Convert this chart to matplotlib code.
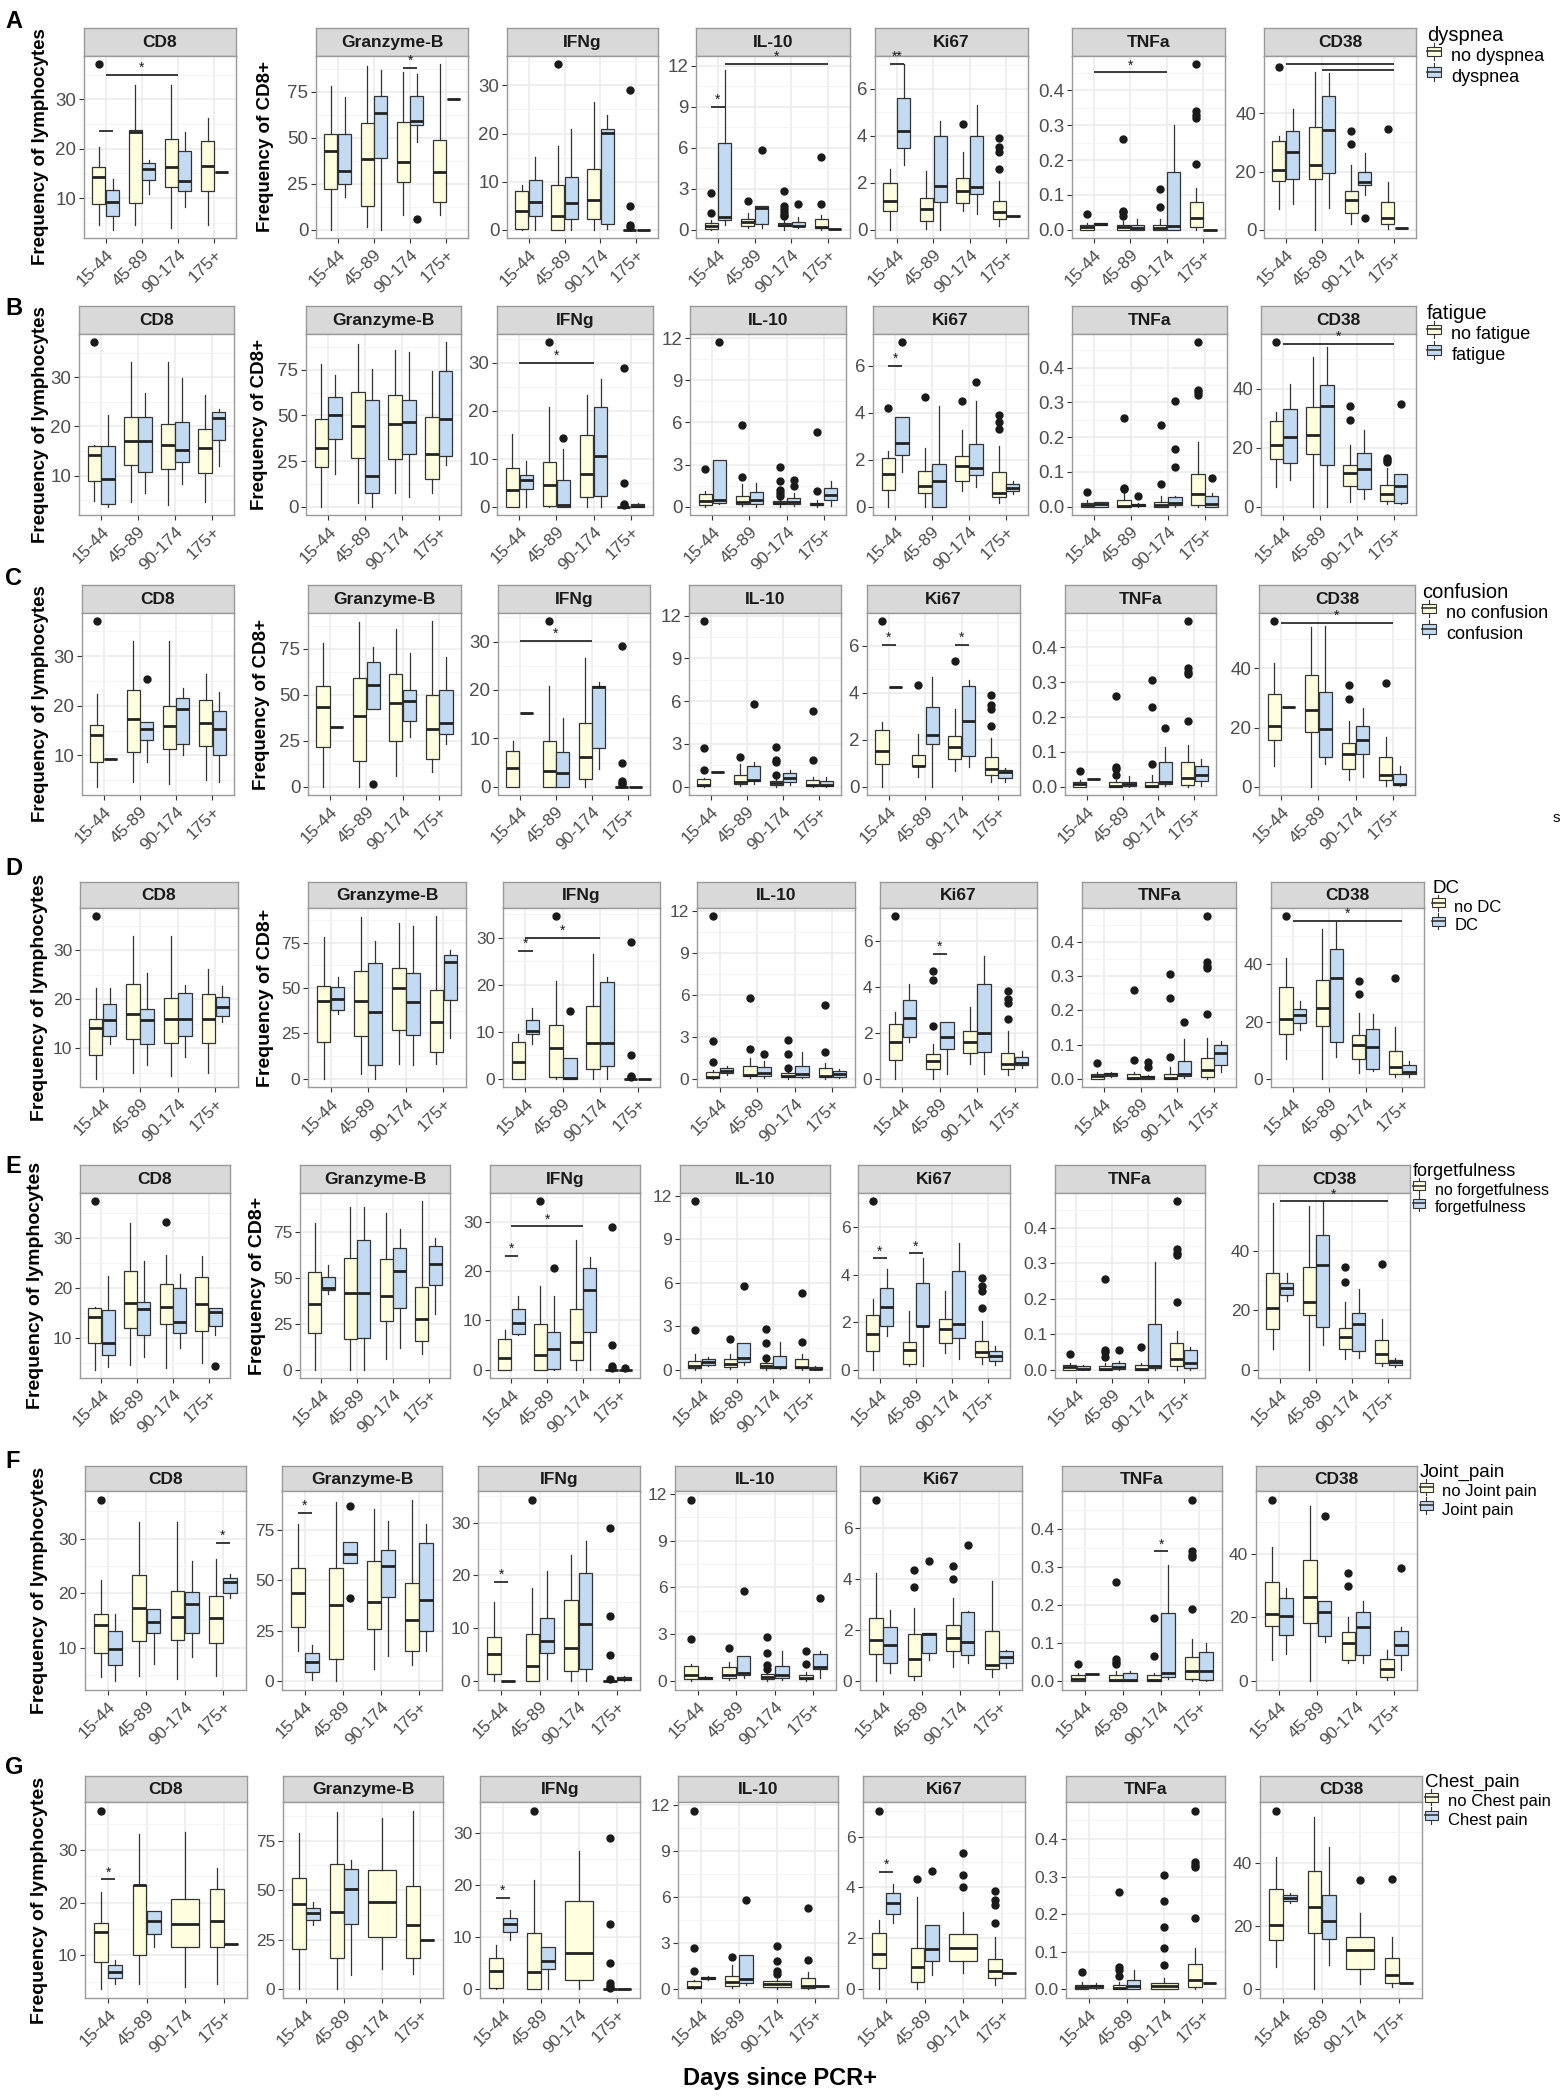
import matplotlib
matplotlib.use('Agg')
import matplotlib.pyplot as plt
from matplotlib.patches import Patch, Rectangle
from matplotlib.lines import Line2D
from matplotlib.legend_handler import HandlerBase

plt.rcParams['font.family'] = ['Liberation Sans', 'DejaVu Sans']

# ---------------- data ----------------
MARKERS = ['CD8', 'Granzyme-B', 'IFNg', 'IL-10', 'Ki67', 'TNFa', 'CD38']
DAYS = ['15-44', '45-89', '90-174', '175+']
YTICKS = [[10, 20, 30], [0, 25, 50, 75], [0, 10, 20, 30], [0, 3, 6, 9, 12],
          [0, 2, 4, 6], [0.0, 0.1, 0.2, 0.3, 0.4], [0, 20, 40]]
# each entry: (lower whisker, q1, median, q3, upper whisker, [outliers]) ; number = single value ; None = no group
# order: 15-44 no, 15-44 yes, 45-89 no, 45-89 yes, 90-174 no, 90-174 yes, 175+ no, 175+ yes

# ----- A: dyspnea -----
A_CD8 = [(4.6, 8.8, 14.2, 16.2, 20.4, [37.1]), (3.6, 6.3, 9.3, 11.6, 13.9),
         (4.6, 9.1, 23.4, 23.7, 33.0), (10.8, 13.6, 15.8, 17.1, 17.7),
         (3.9, 12.2, 16.2, 21.9, 33.0), (8.3, 11.4, 13.5, 19.5, 23.4),
         (4.6, 11.4, 16.5, 21.5, 26.3), 15.2]
A_GZB = [(0, 22, 43, 52, 78), (18, 25, 32, 52, 72),
         (1.5, 13, 38.7, 57.8, 89), (0, 39, 63.7, 72.8, 87),
         (7.8, 26, 36.9, 58.8, 86), (47.6, 57, 59.1, 72.8, 84.7, [5.7]),
         (7.8, 15.3, 31.4, 49, 90), 71]
A_IFNG = [(0, 0.2, 3.9, 8, 9.2), (0, 2.8, 5.8, 10.4, 15.1),
          (0, 0, 2.9, 9.2, 17.4, [34.4]), (0, 2.2, 5.5, 11, 20.9),
          (0, 2.2, 6.1, 12.7, 26.6), (0.2, 1.1, 20.1, 20.9, 23.8),
          (0, 0, 0, 0, 0, [0.5, 0.9, 5.0, 29.0]), 0]
A_IL10 = [(0, 0.05, 0.25, 0.5, 0.7, [1.2, 2.7]), (0.35, 0.7, 0.95, 6.35, 11.7),
          (0.1, 0.3, 0.6, 0.8, 1.2, [2.1]), (0.1, 0.45, 1.6, 1.75, 1.75, [5.8]),
          (0, 0.25, 0.35, 0.5, 0.7, [1.0, 1.1, 1.3, 1.5, 1.7, 2.8]), (0.1, 0.25, 0.3, 0.6, 0.9, [1.9]),
          (0, 0.1, 0.2, 0.8, 1.1, [1.9, 5.3]), 0.05]
A_KI67 = [(0, 0.8, 1.22, 2.0, 2.6), (2.77, 3.46, 4.2, 5.62, 7.04),
          (0.04, 0.37, 0.87, 1.35, 2.5), (0, 1.2, 1.85, 3.97, 4.62),
          (0.8, 1.12, 1.66, 2.18, 3.3, [4.5]), (0.65, 1.5, 1.82, 4.0, 5.32),
          (0.14, 0.47, 0.75, 1.22, 2.06, [2.6, 3.3, 3.5, 3.9]), 0.58]
A_TNFA = [(0, 0, 0.008, 0.015, 0.02, [0.046]), (0.014, 0.014, 0.017, 0.02, 0.02),
          (0, 0, 0.008, 0.015, 0.025, [0.04, 0.05, 0.055, 0.26]), (0, 0, 0.005, 0.013, 0.03),
          (0, 0, 0.005, 0.014, 0.03, [0.065, 0.118]), (0, 0, 0.012, 0.165, 0.3),
          (0, 0.007, 0.035, 0.08, 0.12, [0.19, 0.32, 0.33, 0.34, 0.475]), 0.0]
A_CD38 = [(7.1, 16.7, 20.4, 30.5, 32.3, [55.8]), (9, 17.6, 26.7, 34, 41.5),
          (0, 17.6, 22.3, 35.2, 54.3), (7.5, 19.4, 34.4, 46, 53.9),
          (2.1, 5.9, 10.1, 13.2, 22.3, [29.5, 34]), (11.8, 15.4, 16.4, 20, 26.5, [4]),
          (0.3, 1.9, 4.2, 9.4, 16.5, [34.7]), 0.7]
A_SIG = [(0, 0.81, 1.19, 23.5, ''), (0, 1, 3, 35, '*'), (1, 2.81, 3.19, 88, '*'),
         (3, 0.81, 1.19, 9.0, '*'), (3, 1.19, 4.0, 12.1, '*'), (4, 0.81, 1.19, 7.04, '**'),
         (5, 1, 3, 0.452, '*'), (6, 1, 4, 56.9, ''), (6, 2, 4, 55.1, '')]

# ----- B: fatigue -----
B_CD8 = [(4.9, 9.0, 14.3, 16.1, 16.3, [37.1]), (3.7, 4.3, 9.4, 16.1, 22.3),
         (4.7, 12.2, 17.0, 22.0, 33.0), (6.4, 10.8, 17.0, 21.9, 26.8),
         (4.1, 11.3, 16.2, 20.5, 33.0), (8.4, 12.8, 15.3, 20.9, 29.8),
         (4.7, 10.6, 15.7, 19.4, 26.3), (12.0, 17.2, 21.7, 23.0, 23.6)]
B_GZB = [(0, 21.5, 32, 48, 78), (17.7, 37, 50, 60, 72),
         (1.8, 26.6, 44.4, 62.6, 89), (0, 7.3, 17, 58.6, 75.6),
         (7.7, 26.4, 45.2, 61.4, 85.6), (5.5, 29, 46.4, 58.6, 84.7),
         (7.7, 15, 28.6, 49, 74.5), (22.6, 28, 48, 74.5, 90)]
B_IFNG = [(0, 0, 3.5, 8.1, 15.2), (0, 3.75, 5.5, 6.7, 9.5),
          (0, 0.2, 4.5, 9.3, 20.8, [34.3]), (0, 0, 0.3, 5.6, 12, [14.4]),
          (0, 2.1, 6.9, 14.9, 23.3), (0, 2.2, 10.6, 20.8, 26.6),
          (0, 0, 0, 0, 0, [0.3, 0.5, 5.0, 29.0]), (0, 0, 0.25, 0.5, 0.8)]
B_IL10 = [(0, 0.1, 0.4, 0.9, 1.1, [2.7]), (0.2, 0.3, 0.45, 3.3, 3.3, [11.7]),
          (0.05, 0.2, 0.35, 0.75, 1.6, [2.1, 5.8]), (0, 0.2, 0.5, 1.05, 1.7),
          (0, 0.2, 0.3, 0.4, 0.6, [0.8, 1.0, 1.2, 1.8, 2.8]), (0.05, 0.2, 0.35, 0.6, 1.0, [1.5, 1.9]),
          (0, 0.1, 0.2, 0.3, 0.5, [1.1, 5.3]), (0.05, 0.5, 0.85, 1.35, 1.8)]
B_KI67 = [(0, 0.72, 1.39, 2.07, 2.38, [4.2]), (1.46, 2.2, 2.7, 3.83, 3.83, [7.0]),
          (0, 0.57, 0.9, 1.53, 2.5, [4.65]), (0, 0, 1.1, 1.82, 4.3),
          (0.68, 1.08, 1.73, 2.18, 3.26, [4.5]), (0.82, 1.35, 1.66, 2.67, 4.48, [5.32]),
          (0.18, 0.43, 0.58, 1.46, 2.57, [3.3, 3.6, 3.9]), (0.55, 0.65, 0.8, 0.98, 1.1)]
B_TNFA = [(0, 0, 0.005, 0.012, 0.02, [0.043]), (0, 0, 0.008, 0.013, 0.015),
          (0, 0, 0.003, 0.02, 0.04, [0.052, 0.055, 0.256]), (0, 0.001, 0.005, 0.008, 0.012, [0.03]),
          (0, 0, 0.006, 0.013, 0.03, [0.065, 0.235]), (0, 0.005, 0.012, 0.028, 0.032, [0.115, 0.165, 0.303]),
          (0, 0.005, 0.037, 0.094, 0.185, [0.32, 0.33, 0.337, 0.473]), (0, 0, 0.008, 0.03, 0.04, [0.082])]
B_CD38 = [(6.8, 16.3, 20.8, 29, 32.2, [55.8]), (9, 14.9, 23.7, 33.2, 41.7),
          (0, 18, 24.2, 33.8, 50.7), (0, 14.1, 34.1, 41.2, 54.2),
          (1.7, 7.1, 11.5, 14.3, 20.8, [29.5, 34.2]), (2.8, 6.1, 12.9, 18.4, 26.2),
          (0.8, 1.9, 4.2, 7.3, 13.2, [15.3, 16.0, 16.5]), (1, 1.2, 7.2, 11, 11, [34.7])]
B_SIG = [(2, 1, 3, 30, '*'), (4, 0.81, 1.19, 6.0, '*'), (6, 1, 4, 55.3, '*')]

# ----- C: confusion -----
C_CD8 = [(3.7, 8.7, 14.2, 16.1, 22.3, [37.0]), 9.3,
         (4.7, 10.7, 17.3, 23.1, 33.0), (8.6, 13.2, 15.3, 16.8, 16.8, [25.4]),
         (4.2, 11.3, 15.9, 20.0, 33.0), (10.0, 12.4, 19.4, 21.6, 23.5),
         (5.1, 11.9, 16.5, 21.1, 26.3), (4.7, 10.0, 15.3, 19.0, 22.7)]
C_GZB = [(0, 21.4, 43.3, 54.9, 78.3), 32.2,
         (0, 14.1, 38.4, 58.9, 89.3), (42.2, 42.2, 55.3, 68, 75.7, [1.6]),
         (6, 24.8, 45.5, 61.4, 85.7), (26.8, 35.7, 46.7, 52.5, 72.5),
         (7.8, 15, 31.3, 50, 89.9), (23.2, 28.6, 34.6, 52.7, 70.7)]
C_IFNG = [(0, 0, 3.9, 7.4, 9.4), 15.2,
          (0, 0, 3.3, 9.4, 20.8, [34.2]), (0, 0, 2.8, 7.1, 14.3),
          (0, 1.6, 6.1, 13.2, 26.6), (3.7, 8.1, 20.6, 20.8, 21.6),
          (0, 0, 0, 0, 0, [0.5, 0.8, 1.1, 5.0, 29.0]), 0]
C_IL10 = [(0, 0.05, 0.15, 0.55, 0.6, [1.2, 2.7, 11.6]), 1.0,
          (0.05, 0.2, 0.3, 0.85, 1.6, [2.1]), (0.2, 0.4, 0.5, 1.45, 1.75, [5.8]),
          (0, 0.1, 0.25, 0.4, 0.55, [0.8, 1.7, 1.9, 2.8]), (0.1, 0.35, 0.6, 0.95, 1.2),
          (0, 0.05, 0.15, 0.5, 0.65, [1.9, 5.3]), (0, 0.05, 0.1, 0.4, 0.65)]
C_KI67 = [(0, 0.96, 1.52, 2.4, 2.76, [7.05]), 4.25,
          (0.42, 0.88, 0.89, 1.36, 2.24, [4.35]), (0, 1.84, 2.2, 3.4, 4.67),
          (0.68, 1.18, 1.71, 2.17, 3.31, [5.35]), (0.85, 1.3, 2.8, 4.29, 4.53),
          (0.21, 0.52, 0.76, 1.25, 2.08, [2.6, 3.3, 3.5, 3.9]), (0.21, 0.38, 0.62, 0.71, 0.78)]
C_TNFA = [(0, 0, 0.008, 0.015, 0.02, [0.045]), 0.022,
          (0, 0, 0.001, 0.015, 0.02, [0.035, 0.05, 0.058, 0.26]), (0, 0.002, 0.008, 0.015, 0.03),
          (0, 0, 0.002, 0.015, 0.035, [0.065, 0.23, 0.305]), (0.002, 0.008, 0.015, 0.07, 0.115, [0.168]),
          (0, 0.006, 0.025, 0.072, 0.12, [0.19, 0.325, 0.33, 0.34, 0.475]), (0.002, 0.017, 0.035, 0.06, 0.08)]
C_CD38 = [(6.9, 15.9, 20.6, 31.2, 41.7, [55.9]), 27.0,
          (0, 18.4, 26, 37.9, 54), (7.7, 9.9, 19.5, 32.1, 54.4),
          (2.2, 6.1, 11.1, 14.9, 22.3, [29.7, 34.3]), (3.3, 11, 15.7, 20.5, 26.6),
          (0.3, 2.2, 3.8, 9.9, 16.8, [34.9]), (0.2, 0.7, 0.9, 4.2, 7.1)]
C_SIG = [(2, 1, 3, 30.2, '*'), (4, 0.81, 1.19, 6.05, '*'), (4, 2.81, 3.19, 6.06, '*'), (6, 1, 4, 55.4, '*')]

# ----- D: DC -----
D_CD8 = [(3.8, 8.6, 14.1, 16.0, 22.3, [37.0]), (11.0, 12.5, 15.8, 19.1, 22.3),
         (4.9, 12.0, 17.0, 23.2, 33.0), (6.7, 10.9, 15.8, 18.0, 25.3),
         (4.3, 11.2, 16.0, 20.4, 33.0), (8.3, 12.6, 16.0, 21.3, 23.0),
         (4.9, 11.2, 16.0, 21.1, 26.3), (15.5, 16.7, 18.4, 20.5, 22.7)]
D_GZB = [(0, 20.4, 43, 51.3, 78), (35.6, 37.8, 43.9, 50.4, 56),
         (2.8, 23.5, 42.6, 59.6, 89), (0, 7.4, 36.9, 63.7, 75.7),
         (8.1, 26.9, 49.8, 61.1, 86), (7.8, 23.9, 42.4, 58.3, 84.3),
         (8.1, 14.8, 31.3, 49, 89.6), (22.6, 43.5, 64.6, 68, 70.7)]
D_IFNG = [(0, 0, 3.5, 7.9, 9.5), (7.4, 9.6, 10.2, 12.6, 15.1),
          (0, 0.35, 6.5, 11.4, 20.9, [34.6]), (0, 0, 0.15, 4.4, 4.4, [14.5]),
          (0, 2.0, 7.7, 15.5, 26.5), (0, 2.8, 7.7, 20.5, 21.6),
          (0, 0, 0, 0, 0, [0.3, 0.7, 5.0, 29.0]), 0]
D_IL10 = [(0, 0.05, 0.15, 0.5, 0.6, [1.2, 2.7, 11.6]), (0.3, 0.4, 0.55, 0.75, 0.9),
          (0.05, 0.2, 0.3, 0.95, 1.5, [2.1, 5.8]), (0.05, 0.2, 0.45, 0.85, 1.3, [1.8]),
          (0, 0.1, 0.2, 0.45, 0.6, [0.8, 1.8, 2.8]), (0.05, 0.15, 0.35, 0.95, 1.9),
          (0, 0.1, 0.2, 0.75, 1.1, [1.9, 5.3]), (0.05, 0.15, 0.35, 0.55, 0.7)]
D_KI67 = [(0, 0.82, 1.59, 2.4, 2.9, [7.1]), (1.63, 1.84, 2.66, 3.43, 4.16),
          (0, 0.41, 0.78, 1.1, 1.5, [2.3, 4.3, 4.7]), (0.22, 1.3, 1.81, 2.47, 2.47),
          (0.66, 1.12, 1.63, 2.1, 3.13), (0.22, 1.19, 1.99, 4.12, 5.34),
          (0.15, 0.44, 0.66, 1.15, 2.1, [2.6, 3.3, 3.5, 3.85]), (0.49, 0.6, 0.71, 0.96, 1.22)]
D_TNFA = [(0, 0, 0.008, 0.015, 0.02, [0.045]), (0.005, 0.008, 0.013, 0.018, 0.02),
          (0, 0, 0.003, 0.015, 0.02, [0.055, 0.26]), (0, 0.001, 0.004, 0.007, 0.01, [0.035, 0.05]),
          (0, 0, 0.003, 0.013, 0.035, [0.065, 0.235, 0.305]), (0.002, 0.008, 0.015, 0.052, 0.115, [0.165]),
          (0, 0.006, 0.025, 0.06, 0.12, [0.19, 0.325, 0.33, 0.34, 0.475]), (0.02, 0.04, 0.075, 0.1, 0.11)]
D_CD38 = [(6.8, 15.6, 21, 32, 42.4, [56.9]), (17, 19.6, 22.2, 24.6, 27.4),
          (0, 18.6, 24.8, 34.6, 52.3), (7.7, 12.8, 35.2, 45.5, 55),
          (2, 7.1, 11.9, 15.4, 23, [29.5, 34.2]), (2.6, 3.6, 11.3, 17.4, 22.6),
          (0.5, 1.8, 4.1, 9.8, 18, [35.2]), (0.8, 1.7, 2.4, 4.8, 6.2)]
D_SIG = [(2, 0.81, 1.19, 27.2, '*'), (2, 1, 3, 30, '*'), (4, 1.81, 2.19, 5.44, '*'), (6, 1, 4, 55.3, '*')]

# ----- E: forgetfulness -----
E_CD8 = [(3.7, 9.0, 14.2, 16.0, 16.2, [37.3]), (4.2, 6.7, 9.1, 15.7, 22.3),
         (4.7, 12.0, 17.0, 23.3, 33.0), (6.2, 10.7, 15.9, 17.3, 25.3),
         (4.0, 12.8, 16.3, 20.8, 26.5, [33.2]), (8.1, 11.1, 13.3, 20.0, 22.7),
         (5.0, 11.5, 16.9, 22.1, 26.3), (10.7, 12.5, 15.3, 16.0, 16.0, [4.5])]
E_GZB = [(0, 20, 35.8, 53, 79.6), (41.2, 43.4, 44.5, 50.6, 57),
         (0, 16.8, 41.6, 60.8, 88.6), (0, 17.4, 41.6, 70.5, 88.6),
         (6, 26.4, 39.8, 59.9, 85), (11.8, 33.6, 53.5, 66.2, 76.5),
         (8.3, 15.4, 27.7, 44.8, 91.5), (30.4, 45.8, 57.5, 67.1, 71.6)]
E_IFNG = [(0, 0, 2.4, 6.3, 8.1), (7.1, 7.3, 9.5, 12.3, 15),
          (0, 0, 3, 9.3, 17.1, [34.2]), (0, 0.2, 4.2, 7.6, 15, [20.7]),
          (0, 1.9, 5.6, 12.4, 26.4), (0, 7.7, 16.2, 20.6, 22.9),
          (0, 0, 0, 0, 0, [0.3, 0.8, 5.0, 29.0]), (0, 0, 0, 0, 0, [0.3])]
E_IL10 = [(0, 0.1, 0.25, 0.6, 1.1, [2.7, 11.6]), (0.25, 0.35, 0.55, 0.75, 0.9),
          (0.05, 0.2, 0.4, 0.7, 1.1, [2.1]), (0.3, 0.55, 0.8, 1.8, 1.8, [5.8]),
          (0, 0.1, 0.25, 0.45, 0.6, [0.8, 1.8, 2.8]), (0.05, 0.1, 0.2, 0.95, 1.9),
          (0, 0.1, 0.2, 0.75, 1.1, [1.9, 5.3]), (0, 0.02, 0.05, 0.15, 0.25)]
E_KI67 = [(0, 0.8, 1.49, 2.29, 2.96, [7.08]), (1.42, 1.82, 2.64, 3.45, 4.22),
          (0.17, 0.24, 0.82, 1.17, 2.47), (0.17, 1.82, 1.82, 3.63, 4.68),
          (0.68, 1.12, 1.7, 2.12, 3.31), (0.45, 1.35, 1.91, 4.15, 5.34),
          (0.24, 0.52, 0.73, 1.22, 2.03, [2.6, 3.3, 3.5, 3.85]), (0.21, 0.38, 0.59, 0.8, 1.0)]
E_TNFA = [(0, 0, 0.007, 0.013, 0.02, [0.045]), (0, 0.001, 0.003, 0.01, 0.012),
          (0, 0, 0.002, 0.01, 0.02, [0.035, 0.05, 0.055, 0.255]), (0, 0.003, 0.008, 0.018, 0.025, [0.055]),
          (0, 0, 0.002, 0.012, 0.02, [0.065]), (0, 0.005, 0.01, 0.13, 0.305),
          (0, 0.01, 0.03, 0.075, 0.11, [0.19, 0.325, 0.33, 0.34, 0.475]), (0, 0.005, 0.02, 0.056, 0.065)]
E_CD38 = [(6.9, 13.8, 20.6, 32.4, 56), (23, 25, 27.5, 29, 32.4),
          (0, 18.3, 22.6, 34.3, 54.8), (8.2, 14.4, 35, 45.3, 56.5),
          (3.4, 6.9, 10.8, 14, 22.6, [29.5, 34.3]), (4, 6.3, 15.2, 19.1, 27),
          (1.1, 2.2, 5.4, 10.1, 16.9, [35.4]), (0.9, 1.5, 2.4, 3.1, 4)]
E_SIG = [(2, 0.81, 1.19, 23.1, '*'), (2, 1, 3, 29.1, '*'), (4, 0.81, 1.19, 4.68, '*'),
         (4, 1.81, 2.19, 4.89, '*'), (6, 1, 4, 56.5, '*')]

# ----- F: Joint_pain -----
F_CD8 = [(4.7, 9.0, 14.2, 16.1, 22.4, [37.1]), (3.9, 6.8, 9.8, 13.0, 16.1),
         (4.8, 11.2, 17.3, 23.3, 33.0), (7.0, 12.7, 14.8, 17.1, 17.1),
         (4.2, 11.5, 15.6, 20.4, 33.0), (8.3, 12.7, 18.0, 20.3, 26.0),
         (4.8, 10.9, 15.5, 19.4, 26.3), (19.1, 20.1, 22.1, 22.8, 23.5)]
F_GZB = [(15, 27, 43.8, 56, 78.2), (0.3, 4.4, 9.3, 13.8, 17.9),
         (0, 10.7, 37.7, 56, 88.9), (58.5, 58.5, 63.4, 69.2, 69.2, [41.3, 87.2]),
         (6, 25.7, 39.2, 59.7, 85.6), (12.6, 41.8, 57.2, 65, 79.8),
         (7.7, 15.1, 30.3, 48.7, 90), (15.1, 24.9, 40.5, 68.4, 78.2)]
F_IFNG = [(0, 1.4, 5.1, 8.3, 15), 0,
          (0, 0, 2.8, 8.9, 17.6, [34.3]), (0.3, 5.3, 7.6, 12, 20.8),
          (0, 1.9, 6.2, 15.4, 23.9), (0, 2.2, 10.75, 20.4, 26.6),
          (0, 0, 0, 0, 0, [0.3, 5.0, 12.3, 29.0]), (0, 0.1, 0.3, 0.7, 1.0)]
F_IL10 = [(0, 0.15, 0.35, 0.95, 1.1, [2.7, 11.6]), (0.1, 0.12, 0.2, 0.25, 0.3),
          (0.05, 0.2, 0.35, 0.9, 1.2, [2.1]), (0.2, 0.4, 0.5, 1.6, 1.6, [5.8]),
          (0, 0.1, 0.25, 0.45, 0.6, [0.75, 1.0, 1.8, 2.8]), (0.05, 0.2, 0.35, 0.95, 1.9),
          (0, 0.1, 0.2, 0.4, 0.6, [1.1, 1.9]), (0.2, 0.75, 0.9, 1.7, 1.9, [5.3])]
F_KI67 = [(0, 1.07, 1.59, 2.47, 4.24, [7.1]), (0.3, 0.71, 1.42, 2.1, 2.78),
          (0.04, 0.2, 0.85, 1.85, 2.88, [3.7, 4.35]), (0.82, 1.11, 1.85, 1.89, 1.89, [4.7]),
          (0.56, 1.16, 1.69, 2.2, 3.27, [4.0, 4.5]), (0.71, 1.03, 1.53, 2.69, 2.76, [5.35]),
          (0.14, 0.45, 0.62, 1.98, 3.92), (0.49, 0.72, 0.94, 1.16, 1.2)]
F_TNFA = [(0, 0, 0.005, 0.015, 0.02, [0.045]), 0.017,
          (0, 0, 0.002, 0.015, 0.025, [0.045, 0.05, 0.058, 0.26]), (0, 0.001, 0.002, 0.022, 0.025),
          (0, 0, 0.003, 0.015, 0.02, [0.065, 0.165]), (0.005, 0.01, 0.02, 0.178, 0.305),
          (0, 0.006, 0.025, 0.062, 0.11, [0.19, 0.325, 0.33, 0.34, 0.475]), (0, 0.002, 0.025, 0.075, 0.1)]
F_CD38 = [(6.5, 17.4, 21, 31.1, 42.3, [57]), (8.6, 14.6, 20.5, 26.2, 29.3),
          (0, 18.2, 26.4, 38.1, 55.2), (12.4, 14.3, 21.6, 25.2, 25.2, [51.9]),
          (5.5, 6.5, 11.9, 15.3, 20, [30, 34]), (5.5, 8.1, 16.9, 21.6, 25.2),
          (0.3, 1.3, 3.9, 7, 9.9), (3.4, 8.1, 11.2, 15.6, 16.9, [35.5])]
F_SIG = [(0, 3.81, 4.19, 29.2, '*'), (1, 0.81, 1.19, 83.6, '*'), (2, 0.81, 1.19, 18.75, '*'),
         (5, 2.81, 3.19, 0.34, '*')]

# ----- G: Chest_pain -----
G_CD8 = [(3.6, 8.8, 14.4, 16.2, 22.1, [37.4]), (4.5, 5.7, 6.9, 8.2, 9.1),
         (4.5, 10.0, 23.3, 23.4, 33.0), (11.5, 14.1, 16.5, 18.5, 18.5),
         (4.0, 11.5, 15.9, 20.6, 33.4), None,
         (4.5, 11.6, 16.6, 22.5, 26.5), 12.1]
G_GZB = [(0, 20.1, 42.9, 56.3, 78.6), (32.2, 35, 38.2, 40.9, 44),
         (0, 15.7, 38.8, 63.2, 89.6), (7.1, 32.7, 50.8, 60.8, 65),
         (10.2, 26.3, 44, 60.2, 86.2), None,
         (7.4, 15.7, 32.2, 52.2, 90), 24.7]
G_IFNG = [(0, 0.2, 3.5, 5.9, 8.5), (9.4, 10.9, 12.4, 13.7, 15.1),
          (0, 0, 3.3, 10.8, 20.9, [34.2]), (0, 3.8, 5.4, 8.1, 8.1),
          (0, 1.8, 6.9, 16.9, 26.6), None,
          (0, 0, 0, 0, 0, [0.3, 0.6, 1.2, 5.0, 12.5, 29.0]), 0]
G_IL10 = [(0, 0.05, 0.15, 0.5, 0.6, [1.2, 2.7, 11.6]), (0.6, 0.65, 0.7, 0.8, 0.85),
          (0.05, 0.2, 0.45, 0.85, 1.6, [2.1]), (0.25, 0.4, 0.65, 2.2, 2.2, [5.8]),
          (0, 0.15, 0.3, 0.55, 0.65, [1.0, 1.2, 1.8, 2.8]), None,
          (0, 0.05, 0.2, 0.75, 1.1, [1.9, 5.3]), 0.2]
G_KI67 = [(0, 0.83, 1.38, 2.2, 2.7, [7.01]), (2.61, 2.95, 3.37, 3.77, 4.14),
          (0, 0.26, 0.86, 1.63, 3.61, [4.32]), (0.55, 1.1, 1.57, 2.52, 2.52, [4.65]),
          (0.65, 1.1, 1.63, 2.18, 3.04, [4.0, 4.5, 5.35]), None,
          (0.18, 0.44, 0.71, 1.18, 2.03, [2.6, 3.3, 3.5, 3.85]), 0.62]
G_TNFA = [(0, 0, 0.005, 0.012, 0.02, [0.045]), (0, 0.003, 0.008, 0.012, 0.015),
          (0, 0, 0.002, 0.012, 0.02, [0.035, 0.05, 0.058, 0.26]), (0, 0.001, 0.008, 0.025, 0.05),
          (0, 0.001, 0.008, 0.015, 0.03, [0.065, 0.11, 0.165, 0.235, 0.305]), None,
          (0, 0.005, 0.025, 0.066, 0.11, [0.19, 0.325, 0.33, 0.34, 0.475]), 0.017]
G_CD38 = [(7.1, 15.6, 20.3, 31.8, 41.9, [56.7]), (27.5, 28, 29, 30, 30.5),
          (0, 17.9, 26.2, 37.5, 54.7), (7.6, 15.9, 21.8, 30, 45.2),
          (1.7, 6.4, 12.3, 16.7, 24.3, [34.6]), None,
          (0.7, 2, 4.6, 10, 16.7, [35.1]), 2.0]
G_SIG = [(0, 0.81, 1.19, 24.4, '*'), (2, 0.81, 1.19, 17.5, '*'), (4, 0.81, 1.19, 4.6, '*')]

LETTERS = ['A', 'B', 'C', 'D', 'E', 'F', 'G']
SYMPTOMS = ['dyspnea', 'fatigue', 'confusion', 'DC', 'forgetfulness', 'Joint_pain', 'Chest_pain']
LEG_LABELS = [['no dyspnea', 'dyspnea'], ['no fatigue', 'fatigue'], ['no confusion', 'confusion'],
              ['no DC', 'DC'], ['no forgetfulness', 'forgetfulness'],
              ['no Joint pain', 'Joint pain'], ['no Chest pain', 'Chest pain']]
ROW_DATA = [[A_CD8, A_GZB, A_IFNG, A_IL10, A_KI67, A_TNFA, A_CD38],
            [B_CD8, B_GZB, B_IFNG, B_IL10, B_KI67, B_TNFA, B_CD38],
            [C_CD8, C_GZB, C_IFNG, C_IL10, C_KI67, C_TNFA, C_CD38],
            [D_CD8, D_GZB, D_IFNG, D_IL10, D_KI67, D_TNFA, D_CD38],
            [E_CD8, E_GZB, E_IFNG, E_IL10, E_KI67, E_TNFA, E_CD38],
            [F_CD8, F_GZB, F_IFNG, F_IL10, F_KI67, F_TNFA, F_CD38],
            [G_CD8, G_GZB, G_IFNG, G_IL10, G_KI67, G_TNFA, G_CD38]]
ROW_SIG = [A_SIG, B_SIG, C_SIG, D_SIG, E_SIG, F_SIG, G_SIG]

# ---------------- layout (pixels) ----------------
W, H = 1561, 2096
ROW_Y = [(28, 56, 238), (306, 334, 515), (585, 613, 795), (882, 908, 1087),
         (1165, 1193, 1378), (1466, 1491, 1690), (1776, 1802, 1998)]
ROW_X = [
    [(84, 236), (316, 468), (507, 658), (696, 850), (875, 1028), (1072, 1225), (1264, 1416)],
    [(79, 234), (306, 461), (497, 653), (690, 846), (873, 1028), (1072, 1227), (1261, 1416)],
    [(82, 234), (308, 461), (498, 650), (689, 841), (867, 1020), (1065, 1216), (1259, 1415)],
    [(80, 238), (308, 466), (503, 660), (697, 855), (880, 1037), (1082, 1236), (1271, 1424)],
    [(80, 230), (300, 450), (490, 640), (680, 830), (858, 1010), (1055, 1205), (1258, 1410)],
    [(85, 246), (282, 442), (478, 640), (675, 836), (860, 1022), (1062, 1222), (1256, 1417)],
    [(85, 247), (283, 443), (480, 640), (678, 838), (863, 1025), (1066, 1225), (1260, 1422)],
]
LEG_X = [1427, 1427, 1422, 1432, 1413, 1420, 1425]
LETTER_Y = [10, 297, 567, 857, 1155, 1450, 1756]
YLAB1_X = [41, 41, 41, 40, 36, 40, 40]
YLAB2_X = [265, 260, 262, 265, 257, None, None]
YLAB_FS = [13.5, 13.5, 13.5, 14, 14, 14, 14]
YTICK_FS = [13.5, 13.5, 13.5, 12.5, 12.5, 12.5, 12.5]

YEL = '#FFFFE0'
BLU = '#C3DAF3'
EDGE = '#333333'

fig = plt.figure(figsize=(W / 100, H / 100), dpi=100)


def px_axes(x0, y0, x1, y1, z=1):
    a = fig.add_axes([x0 / W, 1 - y1 / H, (x1 - x0) / W, (y1 - y0) / H])
    a.set_zorder(z)
    return a


def stats_of(e):
    if isinstance(e, (int, float)):
        v = float(e)
        return dict(whislo=v, q1=v, med=v, q3=v, whishi=v, fliers=[])
    lo, q1, med, q3, hi = e[:5]
    fl = e[5] if len(e) > 5 else []
    return dict(whislo=lo, q1=q1, med=med, q3=q3, whishi=hi, fliers=fl)


class BoxKey(HandlerBase):
    def create_artists(self, legend, orig, xd, yd, w, h, fs, trans):
        fc = orig.get_facecolor()
        r = Rectangle((xd, yd + 0.2 * h), w, 0.6 * h, facecolor=fc, edgecolor=EDGE, lw=0.8, transform=trans)
        l1 = Line2D([xd + 0.5 * w] * 2, [yd - 0.05 * h, yd + 0.2 * h], color=EDGE, lw=0.8, transform=trans)
        l2 = Line2D([xd + 0.5 * w] * 2, [yd + 0.8 * h, yd + 1.05 * h], color=EDGE, lw=0.8, transform=trans)
        m = Line2D([xd, xd + w], [yd + 0.5 * h] * 2, color=EDGE, lw=1.2, transform=trans)
        return [r, l1, l2, m]


for r in range(7):
    st, pt, pb = ROW_Y[r]
    for p in range(7):
        x0, x1 = ROW_X[r][p]
        sax = px_axes(x0, st, x1, pt, z=1)
        ax = px_axes(x0, pt, x1, pb, z=2)
        entries = ROW_DATA[r][p]
        stats, pos, wid, cols = [], [], [], []
        for i in range(4):
            pair = [(entries[2 * i], YEL), (entries[2 * i + 1], BLU)]
            present = [(e, c) for e, c in pair if e is not None]
            offs, w = ([-0.1875, 0.1875], 0.36) if len(present) == 2 else ([0.0], 0.72)
            for (e, c), o in zip(present, offs):
                stats.append(stats_of(e))
                pos.append(i + 1 + o)
                wid.append(w)
                cols.append(c)
        art = ax.bxp(stats, positions=pos, widths=wid, patch_artist=True, showcaps=False,
                     manage_ticks=False,
                     boxprops=dict(edgecolor=EDGE, linewidth=0.9),
                     whiskerprops=dict(color=EDGE, linewidth=0.9),
                     medianprops=dict(color='#222222', linewidth=2.0),
                     flierprops=dict(marker='o', markerfacecolor='#1A1A1A', markeredgecolor='#1A1A1A',
                                     markersize=5, linestyle='none'))
        for patch, c in zip(art['boxes'], cols):
            patch.set_facecolor(c)
        for b in art['boxes'] + art['whiskers'] + art['medians'] + art['fliers']:
            b.set_zorder(3)

        vals = []
        for s in stats:
            vals += [s['whislo'], s['whishi']] + list(s['fliers'])
        sigs = [s for s in ROW_SIG[r] if s[0] == p]
        vals += [s[3] for s in sigs]
        mn, mx = min(vals), max(vals)
        rg = mx - mn

        for (_, sx0, sx1, sy, lab) in sigs:
            ax.plot([sx0, sx1], [sy, sy], color='#1A1A1A', lw=1.2, zorder=4, solid_capstyle='butt')
            if lab:
                ax.text((sx0 + sx1) / 2, sy, lab, ha='center', va='bottom', fontsize=10,
                        color='#1A1A1A', zorder=5, clip_on=False)

        yt = YTICKS[p]
        ax.set_yticks(yt)
        if p == 5:
            ax.set_yticklabels(['%.1f' % v for v in yt])
        else:
            ax.set_yticklabels(['%d' % v for v in yt])
        step = yt[1] - yt[0]
        ax.set_yticks([(a + b) / 2 for a, b in zip(yt[:-1], yt[1:])] + [yt[0] - step / 2, yt[-1] + step / 2],
                      minor=True)
        ax.set_ylim(mn - 0.05 * rg, mx + 0.05 * rg)
        ax.set_xlim(0.4, 4.6)
        ax.set_xticks([1, 2, 3, 4])
        ax.set_xticklabels(DAYS, rotation=45, ha='right', rotation_mode='anchor')
        ax.set_axisbelow(True)
        ax.grid(which='major', color='#EBEBEB', lw=1.1)
        ax.grid(which='minor', axis='y', color='#F3F3F3', lw=0.6)
        ax.tick_params(which='minor', length=0)
        ax.tick_params(axis='y', which='major', length=3.5, width=0.8, color='#333333', pad=2,
                       labelsize=YTICK_FS[r], labelcolor='#4D4D4D')
        ax.tick_params(axis='x', which='major', length=3.5, width=0.8, color='#333333', pad=3,
                       labelsize=12.5, labelcolor='#4D4D4D')
        for sp in ax.spines.values():
            sp.set_color('#9A9A9A')
            sp.set_linewidth(1.0)

        sax.set_facecolor('#D9D9D9')
        sax.set_xticks([])
        sax.set_yticks([])
        for sp in sax.spines.values():
            sp.set_color('#9A9A9A')
            sp.set_linewidth(1.0)
        sax.text(0.5, 0.47, MARKERS[p], ha='center', va='center', transform=sax.transAxes,
                 fontsize=12.5, fontweight='bold', color='#1A1A1A')

    yc = 1 - (pt + pb) / 2 / H
    fig.text(YLAB1_X[r] / W, yc, 'Frequency of lymphocytes', rotation=90, ha='center', va='center',
             fontsize=YLAB_FS[r], fontweight='bold', color='#000000')
    if YLAB2_X[r] is not None:
        fig.text(YLAB2_X[r] / W, yc, 'Frequency of CD8+', rotation=90, ha='center', va='center',
                 fontsize=YLAB_FS[r], fontweight='bold', color='#000000')
    fig.text(5 / W, 1 - LETTER_Y[r] / H, LETTERS[r], ha='left', va='top', fontsize=17,
             fontweight='bold', color='#000000')

    handles = [Patch(facecolor=YEL, edgecolor=EDGE), Patch(facecolor=BLU, edgecolor=EDGE)]
    lfs = 13 if r < 3 else 12
    if r == 4:
        lfs = 11.5
    fig.legend(handles, LEG_LABELS[r], title=SYMPTOMS[r], loc='upper left',
               bbox_to_anchor=(LEG_X[r] / W, 1 - (st - 2) / H), frameon=False,
               fontsize=lfs, title_fontsize=lfs + 1.5, handlelength=0.75, handleheight=1.0,
               handletextpad=0.6, labelspacing=0.12, borderaxespad=0, borderpad=0,
               alignment='left', handler_map={Patch: BoxKey()})

fig.text(780 / W, 1 - 2078 / H, 'Days since PCR+', ha='center', va='center', fontsize=17,
         fontweight='bold', color='#000000')
fig.text(1556 / W, 1 - 818 / H, 's', ha='center', va='center', fontsize=11, color='#000000')

fig.savefig('out.png', dpi=100)
